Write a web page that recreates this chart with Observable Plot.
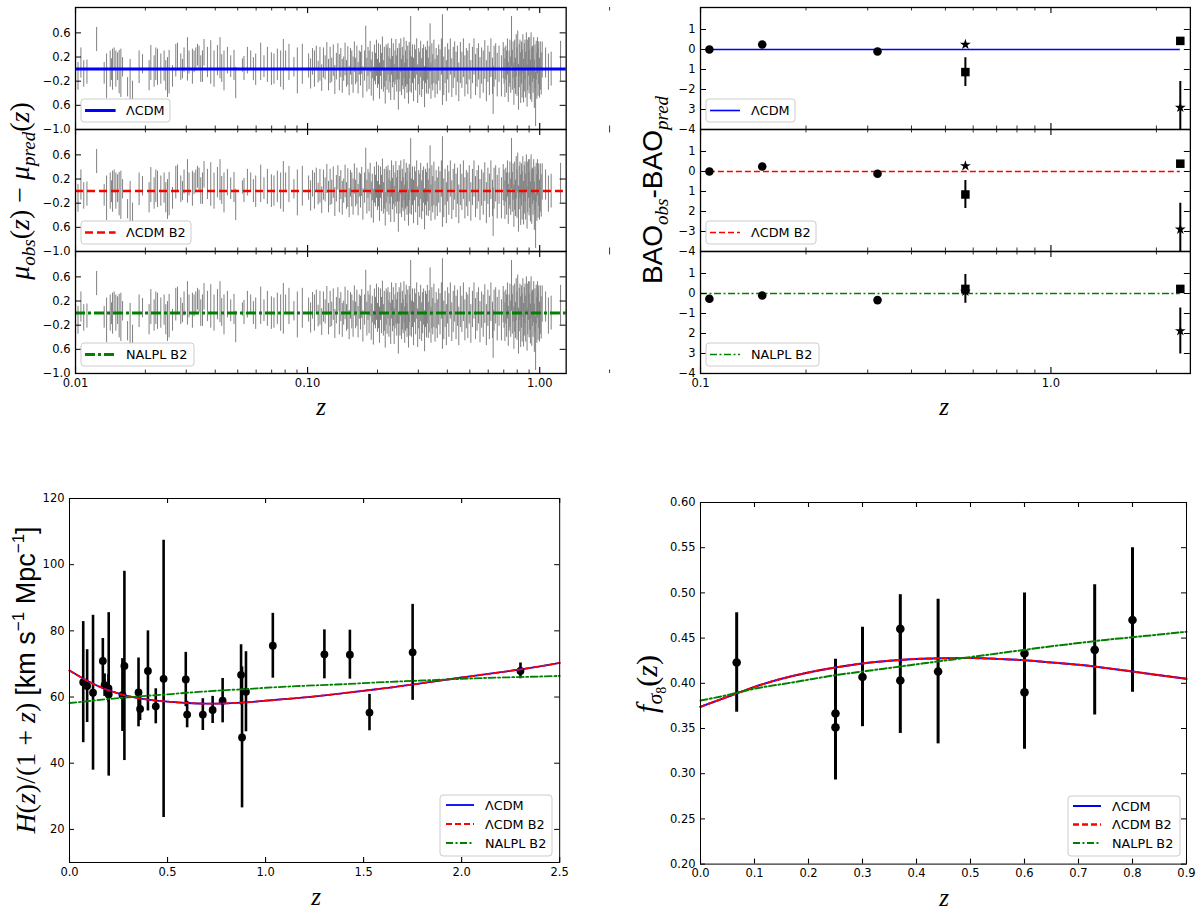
<!DOCTYPE html>
<html>
<head>
<meta charset="utf-8">
<script src="https://cdn.jsdelivr.net/npm/d3@7"></script>
<script src="https://cdn.jsdelivr.net/npm/@observablehq/plot@0.6"></script>
<style>
  body { margin: 0; background: #fff; }
  #fig { position: relative; width: 1200px; height: 910px; overflow: hidden; background: #fff; }
  #fig > svg { position: absolute; }
</style>
</head>
<body>
<div id="fig"></div>
<script>
// ---- supernova residuals [z, residual, error] ----
const snLow = [
  [0.01025,-0.12,0.23],[0.01055,0.1,0.25],[0.01085,-0.08,0.22],[0.0112,-0.05,0.2],[0.01233,0.49,0.2],
  [0.01329,-0.07,0.18],[0.01361,-0.12,0.37],
  [0.01411,0.0,0.3],[0.0143,-0.01,0.18],[0.01444,-0.01,0.34],[0.01467,0.16,0.19],[0.01492,0.0,0.3],
  [0.01518,0.04,0.23],[0.01542,-0.05,0.36],[0.01568,-0.07,0.4],[0.01595,0.03,0.16],[0.01676,-0.3,0.16],
  [0.01719,-0.18,0.34],[0.01761,-0.36,0.16],[0.01879,0.03,0.27],[0.01944,0.08,0.16],[0.02075,-0.11,0.25],
  [0.02111,0.1,0.29],[0.02181,-0.04,0.26],[0.02218,0.08,0.27],[0.02256,0.03,0.3],[0.02331,0.0,0.25],
  [0.02408,0.05,0.25],[0.02449,-0.11,0.25],[0.02491,-0.14,0.33],[0.02531,-0.05,0.36],[0.02618,-0.12,0.18],
  [0.02704,0.14,0.27],[0.0275,0.2,0.23],[0.02841,0.03,0.22],[0.02889,0.0,0.16],[0.02935,0.15,0.2],
  [0.03036,0.16,0.36],[0.03084,0.11,0.19],[0.03189,0.04,0.29],[0.03242,0.12,0.18],[0.03297,0.16,0.19],
  [0.03353,0.23,0.18],[0.03406,0.19,0.19],[0.03464,0.0,0.22],[0.03523,0.04,0.26],[0.03579,0.27,0.22],
  [0.03702,0.11,0.25],[0.03825,0.11,0.36],[0.03952,0.0,0.3],[0.04088,0.14,0.25],[0.04194,0.18,0.34],
  [0.04265,0.01,0.23],[0.04363,-0.03,0.33],[0.04513,0.14,0.22],[0.04663,0.04,0.18],[0.04818,0.06,0.25],
  [0.049,-0.23,0.26],[0.05236,0.06,0.11],[0.0532,0.01,0.2],[0.05502,0.14,0.22],[0.05685,0.14,0.16],
  [0.05839,0.0,0.19],[0.05974,-0.01,0.26],[0.06278,0.12,0.31],[0.06486,0.04,0.18],[0.0671,0.07,0.29],
  [0.06982,0.0,0.27],[0.07161,0.0,0.25],[0.07406,0.07,0.26],[0.07652,0.0,0.3],[0.0786,0.07,0.42],
  [0.0804,0.14,0.16],[0.0831,0.11,0.3],[0.0873,0.03,0.16],[0.0903,-0.03,0.38],[0.0949,0.08,0.33]
];
const snMidA = [
  [0.101,0.05,0.2],[0.103,-0.08,0.25],[0.105,0.12,0.22],[0.107,0.0,0.3],[0.109,0.18,0.2],[0.111,-0.05,0.18],
  [0.113,0.08,0.28],[0.115,-0.15,0.22],[0.117,0.1,0.25],[0.119,0.02,0.2],[0.121,0.2,0.24],[0.123,-0.1,0.26],
  [0.125,0.06,0.3],[0.127,-0.02,0.2],[0.129,0.14,0.26],[0.131,-0.18,0.24],[0.133,0.04,0.22],[0.135,0.22,0.2],
  [0.137,-0.06,0.3],[0.139,0.1,0.24],[0.141,-0.12,0.28],[0.143,0.0,0.2],[0.145,0.16,0.27],[0.147,-0.08,0.22],
  [0.149,0.05,0.32],[0.151,-0.2,0.24],[0.153,0.12,0.22],[0.155,0.02,0.28],[0.157,-0.1,0.3],[0.159,0.2,0.25],
  [0.161,-0.04,0.22],[0.163,0.08,0.3],[0.165,-0.15,0.26],[0.167,0.1,0.2],[0.169,0.0,0.28],[0.171,0.15,0.24],
  [0.173,-0.22,0.26]
];
const snMidB = [
  [0.176,0.05,0.25],[0.178,0.35,0.36],[0.18,-0.1,0.28],[0.182,0.12,0.24],[0.184,-0.02,0.32],[0.186,0.2,0.26],
  [0.188,-0.15,0.3],[0.19,0.06,0.22],[0.192,-0.25,0.28],[0.194,0.1,0.3],[0.196,0.0,0.26],[0.198,0.18,0.3],
  [0.2,-0.08,0.24],[0.202,0.08,0.34],[0.204,-0.2,0.3],[0.206,0.14,0.26],[0.208,-0.04,0.3],[0.21,0.25,0.28],
  [0.212,-0.12,0.26],[0.214,0.03,0.33],[0.216,-0.3,0.28],[0.218,0.1,0.3],[0.22,0.0,0.35],[0.222,0.16,0.26],
  [0.224,-0.1,0.3],[0.226,0.06,0.28],[0.228,-0.18,0.34],[0.23,0.2,0.3],[0.232,-0.05,0.26],[0.234,0.1,0.32],
  [0.236,-0.22,0.3],[0.238,0.02,0.28],[0.24,0.15,0.34],[0.242,-0.08,0.3],[0.244,0.08,0.26],[0.246,-0.35,0.33],
  [0.248,0.12,0.3],[0.25,-0.02,0.36],[0.252,0.22,0.28],[0.254,-0.14,0.3],[0.256,0.04,0.32],[0.258,-0.06,0.28],
  [0.26,0.18,0.34],[0.262,-0.2,0.3],[0.264,0.0,0.3],[0.266,0.1,0.36],[0.268,-0.12,0.28],[0.27,0.06,0.32],
  [0.272,-0.28,0.3],[0.274,0.14,0.3],[0.276,-0.04,0.34],[0.278,0.42,0.45],[0.28,-0.1,0.3],[0.283,0.08,0.32],
  [0.286,-0.18,0.36],[0.289,0.12,0.28],[0.292,-0.02,0.34],[0.295,0.2,0.3],[0.298,-0.25,0.32],[0.301,0.04,0.3],
  [0.304,-0.08,0.36],[0.307,0.16,0.3],[0.31,-0.15,0.32],[0.313,0.0,0.34],[0.316,0.1,0.3],[0.319,-0.3,0.34],
  [0.322,0.06,0.3],[0.325,-0.05,0.36],[0.328,0.14,0.32],[0.331,-0.12,0.3],[0.334,0.02,0.35],[0.337,0.35,0.4],
  [0.34,-0.2,0.3],[0.343,0.08,0.34],[0.346,-0.06,0.3],[0.35,0.12,0.36],[0.354,-0.16,0.32],[0.358,0.04,0.3]
];
const snHighA = [
  [0.362,-0.1,0.32],[0.367,0.1,0.3],[0.372,-0.02,0.34],[0.377,0.2,0.3],[0.381,0.15,0.75],[0.386,-0.12,0.32],
  [0.391,0.06,0.3],[0.396,-0.2,0.34],[0.401,0.12,0.3],[0.406,-0.04,0.36],[0.412,0.2,0.3],[0.418,-0.15,0.32],
  [0.424,0.02,0.34],[0.43,0.15,0.3],[0.436,-0.08,0.36],[0.442,0.08,0.3],[0.448,-0.22,0.32],[0.455,0.1,0.34],
  [0.462,-0.02,0.3],[0.469,0.18,0.32],[0.476,-0.12,0.34],[0.483,0.04,0.3],[0.49,-0.06,0.36],[0.497,0.12,0.3],
  [0.505,-0.18,0.32],[0.513,0.06,0.3],[0.521,0.2,0.3],[0.529,-0.1,0.34],[0.537,0.02,0.32],[0.545,0.12,0.3],
  [0.553,-0.15,0.34],[0.562,0.05,0.3],[0.571,-0.05,0.35],[0.58,0.15,0.32],[0.589,-0.2,0.34],[0.598,0.08,0.3],
  [0.607,-0.08,0.36],[0.616,0.18,0.32],[0.626,-0.12,0.3],[0.63,-0.35,0.4],[0.636,0.04,0.34],[0.646,0.12,0.3],
  [0.656,-0.1,0.36]
];
const snHighB = [
  [0.668,0.08,0.3],[0.684,-0.12,0.34],[0.696,0.14,0.3],[0.702,0.05,0.3],[0.708,-0.15,0.32],[0.714,0.1,0.28],
  [0.72,-0.05,0.35],[0.726,0.2,0.3],[0.732,-0.22,0.33],[0.738,0.0,0.3],[0.744,0.12,0.36],[0.75,-0.1,0.3],
  [0.756,0.45,0.42],[0.762,-0.02,0.33],[0.768,0.15,0.3],[0.774,-0.25,0.35],[0.78,0.08,0.4],[0.786,-0.12,0.3],
  [0.792,0.22,0.35],[0.798,-0.05,0.4],[0.804,0.3,0.33],[0.81,-0.3,0.38],[0.816,0.05,0.36],[0.822,0.18,0.3],
  [0.828,-0.15,0.42],[0.834,0.1,0.35],[0.84,-0.08,0.4],[0.846,0.25,0.32],[0.852,-0.2,0.36],[0.858,0.02,0.4],
  [0.864,0.15,0.33],[0.87,-0.1,0.38],[0.876,0.3,0.3],[0.882,-0.28,0.35],[0.888,0.06,0.42],[0.894,0.2,0.32],
  [0.9,-0.05,0.36],[0.906,0.12,0.4],[0.912,-0.18,0.33],[0.918,0.25,0.35],[0.924,-0.1,0.45],[0.93,0.08,0.3],
  [0.936,-0.02,0.38],[0.942,0.18,0.34],[0.948,-0.25,0.4],[0.954,0.04,0.36],[0.96,-0.5,0.45],[0.966,0.14,0.32],
  [0.972,-0.12,0.38],[0.978,0.22,0.3],[0.984,-0.05,0.4],[0.99,0.1,0.35],[0.998,-0.15,0.33],[1.006,0.05,0.4],
  [1.015,-0.08,0.35],[1.025,0.15,0.3]
];
const snTail = [[1.06,0.1,0.25],[1.09,-0.05,0.3],[1.12,0.0,0.28],[1.23,0.13,0.33]];

const snYTicks = [0.6, 0.2, -0.2, -0.6, -1.0];
const snYLabels = ["0.6", "0.2", "\u22120.2", "0.6", "\u22121.0"];
const snXMajor = [0.01, 0.1, 1];
const snXLabels = ["0.01", "0.10", "1.00"];
const logMinor = [0.02,0.03,0.04,0.05,0.06,0.07,0.08,0.09,0.2,0.3,0.4,0.5,0.6,0.7,0.8,0.9,2];

// ---- BAO residuals ----
const baoZ = [0.106, 0.15, 0.32, 0.57, 0.57, 2.34, 2.34];
const baoSymbol = ["circle", "circle", "circle", "star", "square", "square", "star"];
const baoResLcdm = [0.0, 0.25, -0.10, 0.25, -1.13, 0.43, -2.9];
const baoErrLcdm = [0.08, 0.08, 0.07, 0.06, 0.72, 0.08, 1.3];
const baoResB2 = [0.0, 0.25, -0.11, 0.28, -1.15, 0.39, -2.89];
const baoErrB2 = [0.08, 0.08, 0.07, 0.06, 0.70, 0.08, 1.3];
const baoResNalpl = [-0.26, -0.10, -0.33, 0.10, 0.23, 0.23, -1.87];
const baoErrNalpl = [0.08, 0.08, 0.07, 0.06, 0.72, 0.08, 1.15];
const baoYTicks = [1, 0, -1, -2, -3, -4];
const baoYLabels = [
  ["1", "0", "1", "\u22122", "3", "\u22124"],
  ["1", "0", "1", "2", "\u22123", "\u22124"],
  ["1", "0", "\u22121", "2", "3", "\u22124"]
];

// ---- H(z)/(1+z) ----
const hzZ = [0.07,0.09,0.12,0.17,0.179,0.199,0.2,0.27,0.28,0.352,0.36,0.4,0.44,0.48,0.593,0.6,0.68,0.73,0.781,0.875,0.88,0.9,1.037,1.3,1.43,1.53,1.75,2.3];
const hzVal = [64.5,63.3,61.3,70.9,63.6,62.6,60.8,60.6,69.4,61.4,56.4,67.9,57.2,65.5,65.3,54.7,54.7,56.1,58.9,66.7,47.8,61.6,75.5,72.9,72.8,55.3,73.5,67.9];
const hzErr = [18.3,11.0,23.4,6.8,3.4,4.2,24.7,11.0,28.6,10.4,3.5,12.1,5.3,41.9,8.2,4.0,4.8,4.1,6.7,9.1,21.3,12.1,9.8,7.4,7.4,5.5,14.5,2.4];
const hzCurveZ = [0,0.1,0.2,0.3,0.4,0.5,0.6,0.7,0.8,0.9,1.0,1.2,1.4,1.6,1.8,2.0,2.2,2.4,2.5];
const hzLcdm = [68.0,64.6,62.0,60.3,59.2,58.6,58.2,58.0,58.1,58.4,58.9,59.9,61.2,62.6,64.2,65.9,67.5,69.3,70.3];
const hzNalpl = [58.2,58.8,59.4,59.9,60.4,60.8,61.3,61.7,62.1,62.4,62.8,63.4,63.9,64.5,65.0,65.5,65.9,66.2,66.4];
const hzXTicks = [0, 0.5, 1.0, 1.5, 2.0, 2.5];
const hzYTicks = [20, 40, 60, 80, 100, 120];

// ---- f sigma8 ----
const fsZ = [0.067,0.25,0.25,0.30,0.37,0.37,0.44,0.60,0.60,0.73,0.80];
const fsVal = [0.423,0.3512,0.3665,0.407,0.4602,0.4031,0.413,0.390,0.433,0.437,0.470];
const fsErr = [0.055,0.0583,0.0601,0.055,0.0378,0.0586,0.080,0.063,0.067,0.072,0.080];
const fsCurveZ = [0,0.05,0.1,0.15,0.2,0.25,0.3,0.35,0.4,0.45,0.5,0.55,0.6,0.65,0.7,0.75,0.8,0.85,0.9];
const fsLcdm = [0.374,0.385,0.396,0.405,0.412,0.4175,0.422,0.425,0.427,0.4278,0.428,0.427,0.4255,0.423,0.4205,0.417,0.413,0.409,0.405];
const fsNalpl = [0.381,0.387,0.394,0.399,0.404,0.409,0.413,0.417,0.421,0.425,0.429,0.433,0.437,0.441,0.4445,0.448,0.451,0.454,0.457];
const fsXTicks = [0,0.1,0.2,0.3,0.4,0.5,0.6,0.7,0.8,0.9];
const fsYTicks = [0.20,0.25,0.30,0.35,0.40,0.45,0.50,0.55,0.60];

const BLUE = "#0000ff", RED = "#ff0000", GREEN = "#008000";
const SERIF = "'Liberation Serif', 'DejaVu Serif', serif";
const SANS = "'DejaVu Sans', sans-serif";

const fig = d3.select("#fig");
const M = {l: 50, r: 10, t: 10, b: 26};

function panel(o) {
  const {x0, y0, w, h} = o;
  const marks = [
    ...o.marks,
    Plot.frame({stroke: "black", strokeWidth: o.frameWidth || 1}),
    Plot.tickX(o.xMajor, {x: d => d, insetTop: h - o.majorLen, strokeWidth: 1.1}),
    Plot.tickX(o.xMajor, {x: d => d, insetBottom: h - o.majorLen, strokeWidth: 1.1}),
    Plot.tickX(o.xMinor || [], {x: d => d, insetTop: h - o.minorLen, strokeWidth: 0.8}),
    Plot.tickX(o.xMinor || [], {x: d => d, insetBottom: h - o.minorLen, strokeWidth: 0.8}),
    Plot.tickY(o.yTicks, {y: d => d, insetRight: w - o.majorLen, strokeWidth: 1}),
    Plot.tickY(o.yTicks, {y: d => d, insetLeft: w - o.majorLen, strokeWidth: 1}),
    Plot.text(o.yTicks, {y: d => d, text: (d, i) => o.yLabels[i], frameAnchor: "left", textAnchor: "end", dx: -5})
  ];
  if (o.xLabels) {
    marks.push(Plot.text(o.xMajor, {x: d => d, text: (d, i) => o.xLabels[i], frameAnchor: "bottom", lineAnchor: "top", dy: 5}));
  }
  const p = Plot.plot({
    width: w + M.l + M.r,
    height: h + M.t + M.b,
    marginLeft: M.l, marginRight: M.r, marginTop: M.t, marginBottom: M.b,
    x: {...o.x, axis: null},
    y: {...o.y, axis: null},
    style: {fontFamily: SANS, fontSize: "11.5px", background: "none", overflow: "visible", color: "black"},
    marks
  });
  fig.append(() => p).style("left", (x0 - M.l) + "px").style("top", (y0 - M.t) + "px");
}

// ---------- top left: SN residuals ----------
const snRows = [].concat(snLow, snMidA, snMidB, snHighA, snHighB, snTail)
  .map(([z, r, e]) => ({z, lo: r - e, hi: r + e}));
const models = [
  {label: "\u039BCDM", stroke: BLUE, dash: null},
  {label: "\u039BCDM B2", stroke: RED, dash: "dash"},
  {label: "NALPL B2", stroke: GREEN, dash: "dashdot"}
];
const subTops = [6.7, 128.7, 250.7];
const subH = 122;
const snDash = {dash: "8,4", dashdot: "10,3,3,3"};
const snWidth = [3, 2.5, 3];

models.forEach((m, i) => {
  panel({
    x0: 74.6, y0: subTops[i], w: 490.7, h: subH,
    x: {type: "log", domain: [0.01, 1.3]}, y: {domain: [-1, 1.02]},
    xMajor: snXMajor, xMinor: logMinor, majorLen: 6, minorLen: 3.5, frameWidth: 1.3,
    yTicks: snYTicks, yLabels: snYLabels,
    xLabels: i === 2 ? snXLabels : null,
    marks: [
      Plot.ruleX(snRows, {x: "z", y1: "lo", y2: "hi", stroke: "#808080", strokeWidth: 1, clip: true}),
      Plot.ruleY([0], {stroke: m.stroke, strokeWidth: snWidth[i], strokeDasharray: m.dash ? snDash[m.dash] : null})
    ]
  });
});

// ---------- top right: BAO residuals ----------
const baoSets = [[baoResLcdm, baoErrLcdm], [baoResB2, baoErrB2], [baoResNalpl, baoErrNalpl]];
const baoDash = {dash: "6,3", dashdot: "7,2.5,2,2.5"};
const symSize = {circle: 4.3, square: 4.8, star: 3.4};
models.forEach((m, i) => {
  const [res, err] = baoSets[i];
  const rows = baoZ.map((z, j) => ({z, r: res[j], lo: res[j] - err[j], hi: res[j] + err[j], s: baoSymbol[j]}));
  const lineFrom = i === 2 ? 0.1 : d3.min(baoZ);
  panel({
    x0: 699.5, y0: subTops[i], w: 489.9, h: subH,
    x: {type: "log", domain: [0.1, 2.5]}, y: {domain: [-4, 2.1]},
    xMajor: [0.1, 1], xMinor: logMinor.filter(v => v >= 0.2), majorLen: 6, minorLen: 3.5, frameWidth: 1.3,
    yTicks: baoYTicks, yLabels: baoYLabels[i],
    xLabels: i === 2 ? ["0.1", "1.0"] : null,
    marks: [
      Plot.ruleY([0], {x1: lineFrom, x2: d3.max(baoZ), stroke: m.stroke, strokeWidth: 1.6,
        strokeDasharray: m.dash ? baoDash[m.dash] : null}),
      Plot.ruleX(rows, {x: "z", y1: "lo", y2: "hi", stroke: "black", strokeWidth: 2, clip: true}),
      ...["circle", "square", "star"].map(s =>
        Plot.dot(rows.filter(d => d.s === s), {x: "z", y: "r", symbol: s, r: symSize[s], fill: "black", stroke: "none"}))
    ]
  });
});

// ---------- bottom left: H(z)/(1+z) ----------
const hzRows = hzZ.map((z, j) => ({z, v: hzVal[j], lo: hzVal[j] - hzErr[j], hi: hzVal[j] + hzErr[j]}));
const hzCurves = hzCurveZ.map((z, j) => ({z, l: hzLcdm[j], n: hzNalpl[j]}));
panel({
  x0: 69.3, y0: 498.3, w: 490.2, h: 364,
  x: {domain: [0, 2.5]}, y: {domain: [10, 120]},
  xMajor: hzXTicks, majorLen: 5, minorLen: 3,
  yTicks: hzYTicks, yLabels: hzYTicks.map(String),
  xLabels: hzXTicks.map(d => d.toFixed(1)),
  marks: [
    Plot.ruleX(hzRows, {x: "z", y1: "lo", y2: "hi", stroke: "black", strokeWidth: 2.6, clip: true}),
    Plot.dot(hzRows, {x: "z", y: "v", r: 3.9, fill: "black", stroke: "none"}),
    Plot.line(hzCurves, {x: "z", y: "l", curve: "natural", stroke: BLUE, strokeWidth: 1.8}),
    Plot.line(hzCurves, {x: "z", y: "l", curve: "natural", stroke: RED, strokeWidth: 1.8, strokeDasharray: "5,3"}),
    Plot.line(hzCurves, {x: "z", y: "n", curve: "natural", stroke: GREEN, strokeWidth: 1.8, strokeDasharray: "7,2.5,2,2.5"})
  ]
});

// ---------- bottom right: f sigma8 ----------
const fsRows = fsZ.map((z, j) => ({z, v: fsVal[j], lo: fsVal[j] - fsErr[j], hi: fsVal[j] + fsErr[j]}));
const fsCurves = fsCurveZ.map((z, j) => ({z, l: fsLcdm[j], n: fsNalpl[j]}));
panel({
  x0: 700.3, y0: 501.7, w: 486, h: 361.6,
  x: {domain: [0, 0.9]}, y: {domain: [0.2, 0.6]},
  xMajor: fsXTicks, majorLen: 5, minorLen: 3,
  yTicks: fsYTicks, yLabels: fsYTicks.map(d => d.toFixed(2)),
  xLabels: fsXTicks.map(d => d.toFixed(1)),
  marks: [
    Plot.ruleX(fsRows, {x: "z", y1: "lo", y2: "hi", stroke: "black", strokeWidth: 3, clip: true}),
    Plot.dot(fsRows, {x: "z", y: "v", r: 4.3, fill: "black", stroke: "none"}),
    Plot.line(fsCurves, {x: "z", y: "l", curve: "natural", stroke: BLUE, strokeWidth: 2}),
    Plot.line(fsCurves, {x: "z", y: "l", curve: "natural", stroke: RED, strokeWidth: 2, strokeDasharray: "5,3"}),
    Plot.line(fsCurves, {x: "z", y: "n", curve: "natural", stroke: GREEN, strokeWidth: 2, strokeDasharray: "7,2.5,2,2.5"})
  ]
});

// ---------- overlay: axis titles and legends ----------
const ov = fig.append("svg").attr("width", 1200).attr("height", 910)
  .style("left", "0px").style("top", "0px").style("pointer-events", "none");

function rotLabel(cx, cy, parts) {
  const t = ov.append("text").attr("transform", `translate(${cx},${cy}) rotate(-90)`)
    .attr("text-anchor", "middle").attr("fill", "black");
  parts.forEach(p => t.append("tspan").text(p.t)
    .attr("font-family", p.f || SERIF).attr("font-size", p.s)
    .attr("font-style", p.i ? "italic" : "normal").attr("dy", p.dy || 0));
}
rotLabel(29, 191, [
  {t: "\u03BC", s: 28, i: 1}, {t: "obs", s: 19, i: 1, dy: 6}, {t: "(", s: 28, dy: -6}, {t: "z", s: 28, i: 1},
  {t: ") \u2212 ", s: 28}, {t: "\u03BC", s: 28, i: 1}, {t: "pred", s: 19, i: 1, dy: 6},
  {t: "(", s: 28, dy: -6}, {t: "z", s: 28, i: 1}, {t: ")", s: 28}
]);
rotLabel(662, 190, [
  {t: "BAO", s: 28, f: "'Liberation Sans', sans-serif"}, {t: "obs", s: 19, i: 1, dy: 6},
  {t: "-BAO", s: 28, f: "'Liberation Sans', sans-serif", dy: -6}, {t: "pred", s: 19, i: 1, dy: 6}
]);
rotLabel(35, 680, [
  {t: "H", s: 28, i: 1}, {t: "(", s: 28}, {t: "z", s: 28, i: 1}, {t: ")/(1 + ", s: 28}, {t: "z", s: 28, i: 1},
  {t: ") ", s: 28}, {t: "[km s", s: 27, f: "'Liberation Sans', sans-serif"},
  {t: "\u22121", s: 17, f: "'Liberation Sans', sans-serif", dy: -11},
  {t: " Mpc", s: 27, f: "'Liberation Sans', sans-serif", dy: 11},
  {t: "\u22121", s: 17, f: "'Liberation Sans', sans-serif", dy: -11},
  {t: "]", s: 27, f: "'Liberation Sans', sans-serif", dy: 11}
]);
rotLabel(657, 684, [
  {t: "f", s: 30, i: 1}, {t: "\u03C3", s: 22, i: 1, dy: 5}, {t: "8", s: 14, dy: 4},
  {t: "(", s: 30, dy: -9}, {t: "z", s: 30, i: 1}, {t: ")", s: 30}
]);

[[321, 415], [944, 415], [316, 905], [944, 906]].forEach(([x, y]) =>
  ov.append("text").attr("x", x).attr("y", y).attr("text-anchor", "middle")
    .attr("font-family", SERIF).attr("font-style", "italic").attr("font-size", 25).text("z"));

function legend(x, y, w, h, rows) {
  ov.append("rect").attr("x", x).attr("y", y).attr("width", w).attr("height", h).attr("rx", 3)
    .attr("fill", "white").attr("fill-opacity", 0.85).attr("stroke", "#cccccc").attr("stroke-width", 1);
  rows.forEach(r => {
    ov.append("line").attr("x1", r.x1).attr("x2", r.x2).attr("y1", r.y).attr("y2", r.y)
      .attr("stroke", r.stroke).attr("stroke-width", r.sw).attr("stroke-dasharray", r.dash);
    ov.append("text").attr("x", r.tx).attr("y", r.y + 4.5).attr("font-family", SANS)
      .attr("font-size", 12.8).attr("fill", "black").text(r.label);
  });
}
const tlDash = [null, "8,4", "10,3,3,3"];
const thinDash = [null, "6,3", "7,2.5,2,2.5"];
const tlBoxW = [89, 110, 113];
models.forEach((m, i) => {
  const yc = subTops[i] + 103.8;
  legend(81, yc - 11.5, tlBoxW[i], 23, [{x1: 85, x2: 115.6, y: yc, stroke: m.stroke, sw: snWidth[i], dash: tlDash[i], tx: 126, label: m.label}]);
  legend(706, yc - 11.5, tlBoxW[i], 23, [{x1: 710, x2: 740, y: yc, stroke: m.stroke, sw: 1.6, dash: thinDash[i], tx: 751, label: m.label}]);
});
legend(440, 795, 112, 61, models.map((m, i) => ({x1: 446, x2: 474, y: 805 + i * 19, stroke: m.stroke, sw: 1.8, dash: thinDash[i], tx: 485, label: m.label})));
legend(1068, 796, 112, 60, models.map((m, i) => ({x1: 1073, x2: 1101, y: 806 + i * 18.5, stroke: m.stroke, sw: i === 1 ? 2.6 : 2, dash: thinDash[i], tx: 1112, label: m.label})));
</script>
</body>
</html>
